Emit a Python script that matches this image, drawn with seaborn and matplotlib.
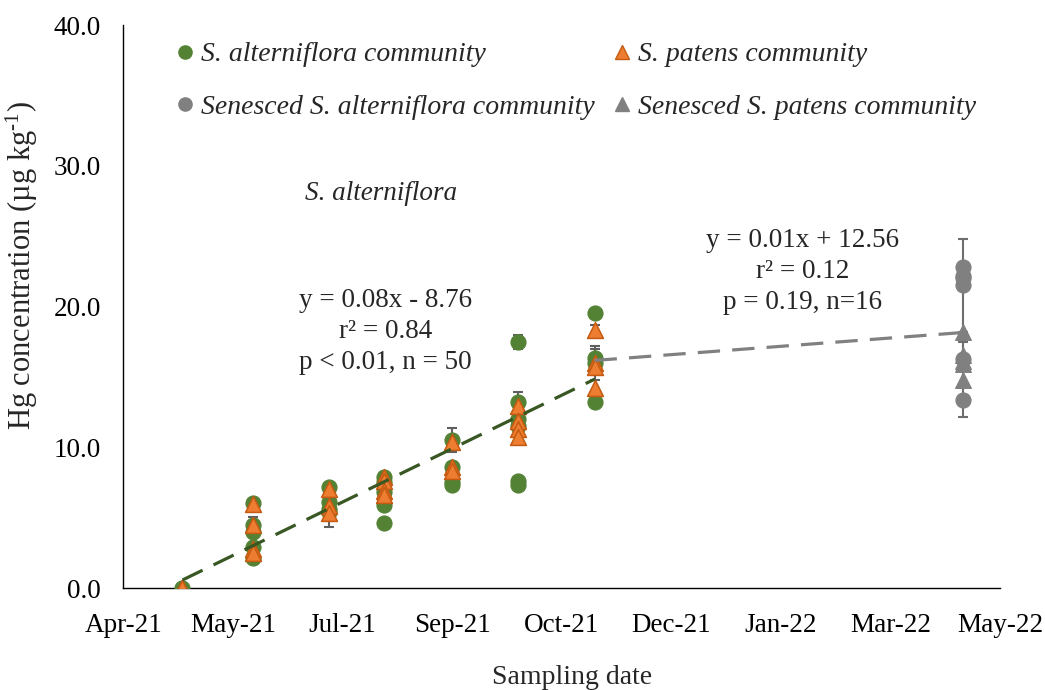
import datetime as dt

import numpy as np
import pandas as pd
import matplotlib
matplotlib.use("Agg")
import matplotlib.pyplot as plt
import matplotlib.dates as mdates
import matplotlib.ticker as mticker
from matplotlib.lines import Line2D
import seaborn as sns

sns.set_theme(style="white")
plt.rcParams["font.family"] = ["Liberation Serif", "DejaVu Serif"]
plt.rcParams["mathtext.fontset"] = "custom"
plt.rcParams["mathtext.rm"] = "Liberation Serif"
plt.rcParams["mathtext.it"] = "Liberation Serif:italic"

# ---- data -------------------------------------------------------------
sampling_dates = ["2021-05-03", "2021-06-04", "2021-07-09", "2021-08-03",
                  "2021-09-03", "2021-10-03", "2021-11-07"]
senesced_date = "2022-04-24"

# Hg (ug/kg) per sampling date, S. alterniflora community
alterniflora_hg = [
    [0.0],
    [6.05, 4.5, 4.0, 2.9, 2.15],
    [7.2, 6.1, 5.6, 5.4],
    [7.9, 7.5, 6.8, 5.9, 4.65],
    [10.5, 8.6, 7.5, 7.3],
    [17.5, 13.25, 12.0, 11.5, 7.6, 7.3],
    [19.55, 16.35, 16.0, 13.25],
]
# Hg (ug/kg) per sampling date, S. patens community
patens_hg = [
    [0.0, 0.0],
    [6.0, 4.45, 2.8, 2.5],
    [7.0, 5.8, 5.3],
    [7.9, 7.6, 6.9, 6.6],
    [10.4, 8.6, 8.3],
    [12.9, 11.9, 11.3, 10.7],
    [18.3, 16.0, 15.7, 14.2],
]
senesced_alterniflora_hg = [22.8, 22.2, 22.0, 21.5, 16.3, 13.35]
senesced_patens_hg = [18.2, 16.55, 16.1, 15.9, 14.8]

# error bars: (date index, value, half-width)
alterniflora_err = [(1, 4.5, 0.55), (2, 5.4, 1.05), (4, 10.5, 0.85),
                    (5, 17.5, 0.5), (5, 13.25, 0.65), (6, 16.35, 0.62)]
patens_err = [(6, 18.3, 0.4), (6, 16.0, 1.22)]
senesced_alterniflora_err = [(21.5, 3.3)]
senesced_patens_err = [(14.8, 2.65)]

x_ticks_start = "2021-04-06"
x_tick_step_days = 50
n_x_ticks = 9
y_ticks = [0, 10, 20, 30, 40]

# ---- tidy tables ------------------------------------------------------
def long_table(dates, values):
    rows = [(pd.Timestamp(d), v) for d, vals in zip(dates, values) for v in vals]
    return pd.DataFrame(rows, columns=["date", "hg"])

alt_df = long_table(sampling_dates, alterniflora_hg)
pat_df = long_table(sampling_dates, patens_hg)
sen_alt_df = pd.DataFrame({"date": pd.Timestamp(senesced_date), "hg": senesced_alterniflora_hg})
sen_pat_df = pd.DataFrame({"date": pd.Timestamp(senesced_date), "hg": senesced_patens_hg})

GREEN = "#548235"
ORANGE = "#ED7D31"
ORANGE_EDGE = "#C55A11"
GREY = "#808080"
ERR = "#5F5F5F"
LINE_GREEN = "#385723"

FS = 19.5

fig = plt.figure(figsize=(10.45, 6.9), dpi=100)
ax = fig.add_axes([0.118, 0.1478, 0.839, 0.8159])

# error bars (behind markers)
for i, v, e in alterniflora_err + patens_err:
    ax.errorbar(pd.Timestamp(sampling_dates[i]), v, yerr=e, fmt="none",
                ecolor=ERR, elinewidth=1.5, capsize=3.6, capthick=1.5, zorder=2)
for v, e in senesced_alterniflora_err + senesced_patens_err:
    ax.errorbar(pd.Timestamp(senesced_date), v, yerr=e, fmt="none",
                ecolor="#6E6E6E", elinewidth=1.5, capsize=3.6, capthick=1.5, zorder=2)

sns.scatterplot(data=alt_df, x="date", y="hg", marker="o", s=118, color=GREEN,
                edgecolor=GREEN, linewidth=0.8, ax=ax, legend=False, zorder=3)
sns.scatterplot(data=pat_df, x="date", y="hg", marker="^", s=130, color=ORANGE,
                edgecolor=ORANGE_EDGE, linewidth=1.1, ax=ax, legend=False, zorder=4)
sns.scatterplot(data=sen_alt_df, x="date", y="hg", marker="o", s=118, color=GREY,
                edgecolor=GREY, linewidth=0.8, ax=ax, legend=False, zorder=3)
sns.scatterplot(data=sen_pat_df, x="date", y="hg", marker="^", s=130, color=GREY,
                edgecolor=GREY, linewidth=0.8, ax=ax, legend=False, zorder=4)

# ---- linear trends ------------------------------------------------------
origin = pd.Timestamp(x_ticks_start)
growth = pd.concat([alt_df, pat_df])
gx = (growth["date"] - origin).dt.days.to_numpy(float)
g_slope, g_int = np.polyfit(gx, growth["hg"].to_numpy(float), 1)
g_days = np.array([gx.min(), gx.max()])
ax.plot(origin + pd.to_timedelta(g_days, unit="D"), g_slope * g_days + g_int,
        color=LINE_GREEN, lw=2.3, dashes=(7, 3.8), zorder=5)

late = pd.concat([alt_df[alt_df["date"] == pd.Timestamp(sampling_dates[-1])],
                  pat_df[pat_df["date"] == pd.Timestamp(sampling_dates[-1])],
                  sen_alt_df, sen_pat_df])
lx = (late["date"] - origin).dt.days.to_numpy(float)
l_slope, l_int = np.polyfit(lx, late["hg"].to_numpy(float), 1)
l_days = np.array([lx.min(), lx.max()])
ax.plot(origin + pd.to_timedelta(l_days, unit="D"), l_slope * l_days + l_int,
        color=GREY, lw=2.3, dashes=(7, 3.8), zorder=5)

# ---- axes ---------------------------------------------------------------
tick_dates = [origin + pd.Timedelta(days=x_tick_step_days * k) for k in range(n_x_ticks)]
ax.set_xlim(tick_dates[0], tick_dates[-1])
ax.xaxis.set_major_locator(mticker.FixedLocator(mdates.date2num(tick_dates)))
ax.xaxis.set_major_formatter(mdates.DateFormatter("%b-%y"))
ax.set_ylim(y_ticks[0], y_ticks[-1])
ax.set_yticks(y_ticks)
ax.yaxis.set_major_formatter(mticker.FormatStrFormatter("%.1f"))

for side in ("top", "right"):
    ax.spines[side].set_visible(False)
for side in ("left", "bottom"):
    ax.spines[side].set_color("black")
    ax.spines[side].set_linewidth(1.0)
ax.tick_params(axis="both", direction="in", length=5, width=1.0, color="black",
               labelsize=FS, labelcolor="black")
ax.tick_params(axis="x", pad=18)
ax.tick_params(axis="y", pad=16)
ax.set_xlabel("")
ax.set_ylabel("")
ax.grid(False)

fig.text(572 / 1045, 1 - 677 / 690, "Sampling date", ha="center", va="center", fontsize=20)
fig.text(22 / 1045, 1 - 265 / 690, r"Hg concentration (µg kg$^{\text{-}1}$)", rotation=90,
         ha="center", va="center", fontsize=22)

# ---- annotations ----------------------------------------------------------
ax.text((381.5 - 123.3) / 876.7, 1 - (193 - 25) / 563, "S. alterniflora", style="italic",
        transform=ax.transAxes, ha="center", va="center", fontsize=FS)
for k, line in enumerate(["y = 0.08x - 8.76", "r² = 0.84", "p < 0.01, n = 50"]):
    ax.text((385.5 - 123.3) / 876.7, 1 - (300 + 31 * k - 25) / 563, line,
            transform=ax.transAxes, ha="center", va="center", fontsize=FS)
for k, line in enumerate(["y = 0.01x + 12.56", "r² = 0.12", "p = 0.19, n=16"]):
    ax.text((802.5 - 123.3) / 876.7, 1 - (240 + 31 * k - 25) / 563, line,
            transform=ax.transAxes, ha="center", va="center", fontsize=FS)

# ---- legend ---------------------------------------------------------------
handles = [
    Line2D([], [], ls="none", marker="o", ms=9.5, color=GREEN, mec=GREEN),
    Line2D([], [], ls="none", marker="o", ms=9.5, color=GREY, mec=GREY),
    Line2D([], [], ls="none", marker="^", ms=10, color=ORANGE, mec=ORANGE_EDGE),
    Line2D([], [], ls="none", marker="^", ms=10, color=GREY, mec=GREY),
]
labels = ["S. alterniflora community", "Senesced S. alterniflora community",
          "S. patens community", "Senesced S. patens community"]
fig.legend(handles, labels, ncol=2, loc="upper left",
           bbox_to_anchor=(177 / 1045, 1 - 42 / 690), frameon=False,
           prop={"family": "Liberation Serif", "style": "italic", "size": 20},
           handlelength=0.6, handletextpad=0.25, columnspacing=0.71,
           labelspacing=0.98, borderpad=0, borderaxespad=0)

fig.savefig("out.png", dpi=100)
